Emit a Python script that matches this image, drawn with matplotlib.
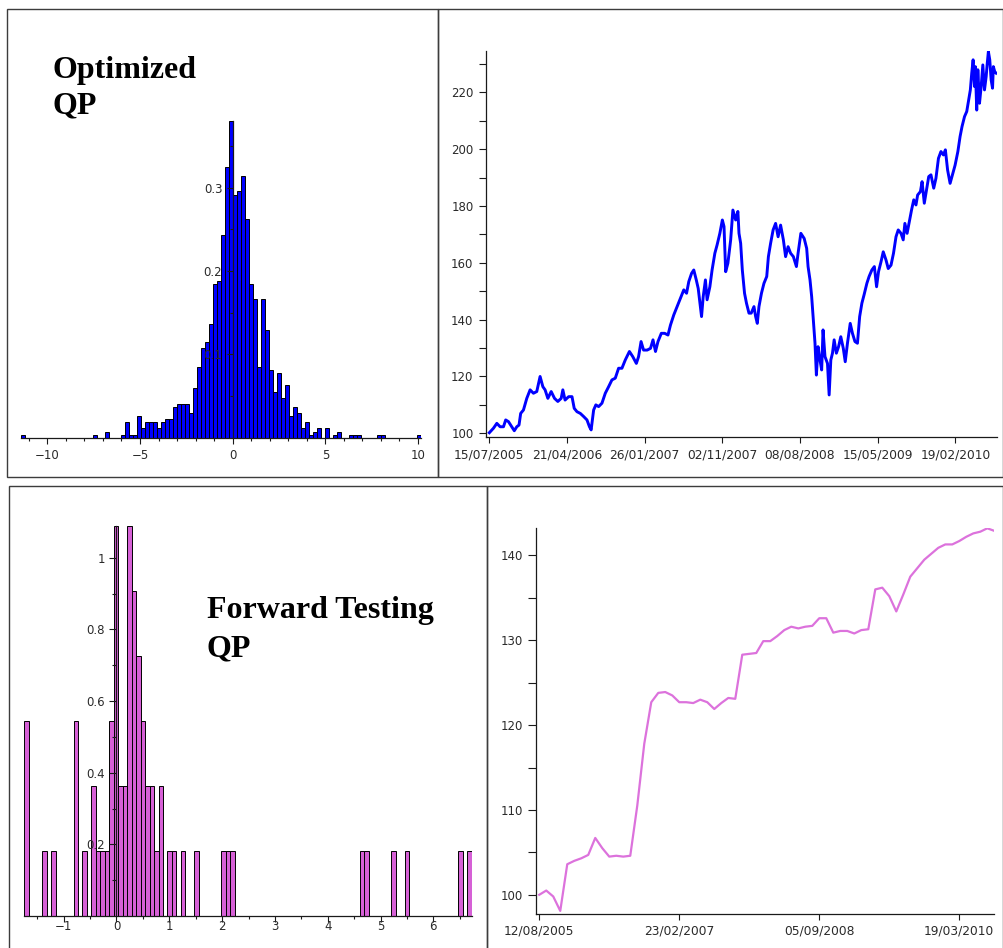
import datetime as dt
import numpy as np
import matplotlib
matplotlib.use("Agg")
import matplotlib.pyplot as plt
import matplotlib.dates as mdates
from matplotlib.patches import Rectangle
from matplotlib.ticker import FuncFormatter

# optimized QP: distribution of returns (%), 100 equal bins, counts per bin
opt_range = (-11.42, 10.16)
opt_counts = [1, 0, 0, 0, 0, 0, 0, 0, 0, 0,
              0, 0, 0, 0, 0, 0, 0, 0, 1, 0,
              0, 2, 0, 0, 0, 1, 5, 1, 1, 7,
              3, 5, 5, 5, 3, 5, 6, 6, 10, 11,
              11, 11, 8, 16, 23, 29, 31, 37, 50, 51,
              66, 88, 103, 79, 80, 85, 71, 50, 45, 23,
              45, 35, 22, 15, 21, 13, 17, 7, 10, 8,
              3, 5, 1, 2, 3, 0, 3, 0, 1, 2,
              0, 0, 1, 1, 1, 0, 0, 0, 0, 1,
              1, 0, 0, 0, 0, 0, 0, 0, 0, 1]

# forward testing QP: distribution of returns (%), 100 equal bins
fwd_range = (-1.746, 6.727)
fwd_counts = [3, 0, 0, 0, 1, 0, 1, 0, 0, 0,
              0, 3, 0, 1, 0, 2, 1, 1, 1, 3,
              6, 2, 2, 6, 5, 4, 3, 2, 2, 1,
              2, 0, 1, 1, 0, 1, 0, 0, 1, 0,
              0, 0, 0, 0, 1, 1, 1, 0, 0, 0,
              0, 0, 0, 0, 0, 0, 0, 0, 0, 0,
              0, 0, 0, 0, 0, 0, 0, 0, 0, 0,
              0, 0, 0, 0, 0, 1, 1, 0, 0, 0,
              0, 0, 1, 0, 0, 1, 0, 0, 0, 0,
              0, 0, 0, 0, 0, 0, 0, 1, 0, 1]

# optimized QP equity curve: days after start date, index level
opt_start = dt.date(2005, 7, 15)
opt_days = [0, 15, 27, 39, 51, 59, 69, 81, 90, 99,
            107, 113, 123, 135, 147, 159, 171, 183, 193, 201,
            211, 223, 235, 247, 259, 265, 273, 286, 298, 306,
            316, 328, 340, 352, 361, 367, 376, 384, 394, 406,
            418, 430, 442, 454, 466, 478, 490, 505, 517, 530,
            538, 547, 556, 569, 581, 590, 599, 608, 620, 632,
            644, 653, 665, 677, 689, 701, 711, 719, 729, 737,
            746, 753, 761, 765, 771, 779, 785, 795, 803, 813,
            821, 831, 840, 846, 852, 860, 870, 878, 888, 896,
            900, 906, 912, 920, 927, 936, 944, 954, 960, 966,
            972, 981, 990, 1000, 1006, 1014, 1023, 1032, 1041, 1050,
            1060, 1068, 1077, 1086, 1096, 1107, 1113, 1123, 1135, 1144,
            1149, 1156, 1162, 1168, 1174, 1179, 1185, 1192, 1198, 1203,
            1210, 1219, 1225, 1231, 1237, 1243, 1251, 1259, 1267, 1276,
            1283, 1291, 1301, 1309, 1318, 1327, 1335, 1343, 1351, 1361,
            1369, 1379, 1388, 1396, 1403, 1412, 1420, 1430, 1438, 1448,
            1457, 1466, 1474, 1484, 1492, 1498, 1506, 1514, 1522, 1530,
            1538, 1544, 1554, 1560, 1568, 1577, 1584, 1592, 1602, 1610,
            1619, 1628, 1637, 1644, 1652, 1661, 1671, 1679, 1689, 1697,
            1704, 1713, 1721, 1728, 1734, 1739, 1744, 1749, 1752, 1757,
            1761, 1767, 1773, 1779, 1785, 1791, 1795, 1799, 1804, 1809,
            1814, 1817, 1822, 1827]
opt_values = [100.2, 101.8, 103.5, 102.3, 102.3, 104.7, 104.1, 102.3, 100.9, 102.3,
              102.9, 107.0, 108.2, 112.3, 115.3, 114.1, 114.7, 120.0, 116.4, 115.3,
              112.3, 114.7, 112.3, 111.2, 112.3, 115.3, 111.7, 112.9, 112.9, 108.8,
              107.6, 107.0, 105.9, 104.7, 102.3, 101.2, 108.2, 110.0, 109.4, 110.6,
              114.1, 116.4, 118.8, 119.4, 122.9, 122.9, 125.8, 128.8, 127.0, 124.6,
              127.0, 132.3, 129.3, 129.3, 129.9, 132.9, 128.8, 132.3, 135.2, 135.2,
              134.6, 138.1, 141.7, 144.6, 147.5, 150.5, 149.3, 153.4, 156.3, 157.5,
              154.0, 151.0, 144.6, 141.1, 148.1, 154.0, 147.0, 151.6, 157.5, 163.4,
              166.3, 170.4, 175.1, 172.8, 156.9, 159.9, 168.1, 178.6, 175.1, 178.1,
              170.4, 166.9, 157.5, 149.3, 145.8, 142.3, 142.3, 144.6, 141.1, 138.7,
              144.6, 149.3, 152.8, 155.2, 162.2, 166.9, 171.6, 173.9, 169.2, 173.3,
              168.1, 162.2, 165.7, 163.4, 162.2, 158.7, 163.4, 170.4, 168.6, 165.1,
              158.7, 154.0, 148.1, 139.9, 131.7, 120.5, 130.5, 125.8, 122.3, 136.4,
              127.0, 124.6, 113.5, 125.8, 128.2, 132.9, 128.2, 130.5, 134.0, 129.9,
              125.2, 131.7, 138.7, 135.2, 132.3, 131.7, 141.1, 145.8, 148.8, 152.8,
              155.2, 157.5, 158.7, 151.6, 156.9, 160.4, 163.9, 161.0, 158.0, 159.2,
              163.4, 169.2, 171.6, 170.4, 168.1, 173.9, 170.4, 174.5, 178.6, 182.2,
              180.4, 183.9, 185.1, 188.6, 181.0, 186.3, 190.4, 191.0, 186.3, 189.8,
              196.8, 199.2, 198.0, 199.8, 192.7, 188.0, 191.5, 194.4, 199.2, 204.5,
              208.0, 211.5, 213.3, 217.4, 220.9, 226.8, 231.5, 222.1, 229.1, 213.8,
              228.0, 216.2, 222.1, 229.7, 220.9, 225.6, 230.3, 234.4, 231.5, 224.4,
              221.5, 229.1, 227.3, 226.8]

# forward testing equity curve, one value every 28 days
fwd_start = dt.date(2005, 8, 12)
fwd_step = 28
fwd_values = [100.0, 100.5, 99.8, 98.1, 103.6, 104.0, 104.3, 104.7, 106.7, 105.5,
              104.5, 104.6, 104.5, 104.6, 110.5, 117.8, 122.7, 123.8, 123.9, 123.5,
              122.7, 122.7, 122.6, 123.0, 122.7, 121.9, 122.6, 123.2, 123.1, 128.3,
              128.4, 128.5, 129.9, 129.9, 130.5, 131.2, 131.6, 131.4, 131.6, 131.7,
              132.6, 132.6, 130.9, 131.1, 131.1, 130.8, 131.2, 131.3, 136.0, 136.2,
              135.2, 133.4, 135.4, 137.5, 138.5, 139.5, 140.2, 140.9, 141.3, 141.3,
              141.7, 142.2, 142.6, 142.8, 143.2, 142.9]

W, H = 1004, 948
fig = plt.figure(figsize=(W / 100, H / 100), dpi=100)
fig.patch.set_facecolor("white")

TXT = "#2a2a2a"
INK = "#1a1a1a"
fmt_g = FuncFormatter(lambda v, p: ("%g" % v).replace("-", "\u2212"))


def px_axes(left, top, right, bottom):
    return fig.add_axes([left / W, 1 - bottom / H, (right - left) / W, (bottom - top) / H])


def frame(left, top, right, bottom):
    fig.add_artist(Rectangle((left / W, 1 - bottom / H), (right - left) / W, (bottom - top) / H,
                             transform=fig.transFigure, fill=False, ec="#3c3c3c", lw=1.0))


def style(ax):
    ax.set_facecolor("none")
    ax.spines["top"].set_visible(False)
    ax.spines["right"].set_visible(False)
    for s in ["left", "bottom"]:
        ax.spines[s].set_color(INK)
        ax.spines[s].set_linewidth(0.9)
    ax.tick_params(which="both", direction="out", color=INK, labelcolor=TXT,
                   labelsize=8.5, width=0.8)
    ax.set_axisbelow(False)


def histogram(ax, counts, rng, color):
    edges = np.linspace(rng[0], rng[1], len(counts) + 1)
    centers = (edges[:-1] + edges[1:]) / 2
    ax.hist(centers, bins=edges, weights=counts, density=True,
            color=color, edgecolor="black", linewidth=0.7)
    ax.set_xlim(*rng)
    ax.spines["left"].set_position(("data", 0))


def peak_density(counts, rng):
    counts = np.asarray(counts, float)
    return counts.max() / (counts.sum() * (rng[1] - rng[0]) / len(counts))


# panel frames
frame(7, 9, 438, 477)
frame(438, 9, 1003, 477)
frame(9, 486, 487, 960)
frame(487, 486, 1003, 960)

# ---- top left histogram
ymax = peak_density(opt_counts, opt_range)
ax1 = px_axes(21, 437.7 - ymax * 833, 421, 437.7)
style(ax1)
histogram(ax1, opt_counts, opt_range, "#0000ff")
ax1.set_ylim(0, ymax)
ax1.set_xticks([-10, -5, 0, 5, 10])
ax1.set_xticks([v for v in range(-11, 11) if v % 5], minor=True)
ax1.set_yticks([0.1, 0.2, 0.3])
ax1.set_yticks([0.05, 0.15, 0.25, 0.35], minor=True)
ax1.xaxis.set_major_formatter(fmt_g)
ax1.yaxis.set_major_formatter(fmt_g)
ax1.tick_params(axis="x", which="major", length=4.2, pad=4.0)
ax1.tick_params(axis="x", which="minor", length=2.2)
ax1.tick_params(axis="y", which="major", length=4.5, pad=3.0)
ax1.tick_params(axis="y", which="minor", length=2.2)

# ---- bottom left histogram
ymax = peak_density(fwd_counts, fwd_range)
ax3 = px_axes(24.3, 916 - ymax * 358.3, 471.7, 916)
style(ax3)
histogram(ax3, fwd_counts, fwd_range, "#d660d6")
ax3.set_ylim(0, ymax)
ax3.set_xticks(range(-1, 7))
ax3.set_xticks([v + 0.5 for v in range(-2, 7)], minor=True)
ax3.set_yticks([0.2, 0.4, 0.6, 0.8, 1.0])
ax3.set_yticks([0.1, 0.3, 0.5, 0.7, 0.9], minor=True)
ax3.xaxis.set_major_formatter(fmt_g)
ax3.yaxis.set_major_formatter(fmt_g)
ax3.tick_params(axis="x", which="major", length=4.2, pad=-1.0)
ax3.tick_params(axis="x", which="minor", length=2.2)
ax3.tick_params(axis="y", which="major", length=5.2, pad=3.0)
ax3.tick_params(axis="y", which="minor", length=2.6)

# ---- top right equity curve
ax2 = px_axes(486, 51, 996.7, 436.7)
style(ax2)
opt_dates = [opt_start + dt.timedelta(days=d) for d in opt_days]
ax2.plot(opt_dates, opt_values, color="#0000ff", lw=2.1, solid_joinstyle="round")
ax2.set_xlim(opt_start - dt.timedelta(days=12), opt_start + dt.timedelta(days=1829))
ax2.set_ylim(98.8, 234.6)
ax2.set_xticks([opt_start + dt.timedelta(days=280 * k) for k in range(7)])
ax2.xaxis.set_major_formatter(mdates.DateFormatter("%d/%m/%Y"))
ax2.set_yticks(range(100, 221, 20))
ax2.set_yticks(range(110, 231, 20), minor=True)
ax2.tick_params(axis="x", length=4.0, pad=4.5, labelsize=8.8)
ax2.tick_params(axis="y", which="both", length=5.0, pad=4.0)

# ---- bottom right equity curve
ax4 = px_axes(536, 528.3, 994.3, 914.3)
style(ax4)
fwd_dates = [fwd_start + dt.timedelta(days=fwd_step * i) for i in range(len(fwd_values))]
ax4.plot(fwd_dates, fwd_values, color="#dc72dc", lw=1.6, solid_joinstyle="round")
ax4.set_xlim(fwd_start - dt.timedelta(days=13), fwd_dates[-1])
ax4.set_ylim(97.7, 143.2)
ax4.set_xticks([fwd_start + dt.timedelta(days=560 * k) for k in range(4)])
ax4.xaxis.set_major_formatter(mdates.DateFormatter("%d/%m/%Y"))
ax4.set_yticks(range(100, 141, 10))
ax4.set_yticks(range(105, 140, 10), minor=True)
ax4.tick_params(axis="x", length=4.0, pad=3.5, labelsize=8.8)
ax4.tick_params(axis="y", which="both", length=6.0, pad=3.5)

# ---- panel captions
serif = ["Liberation Serif", "DejaVu Serif"]
for x, y, s in [(53, 78.3, "Optimized"), (53, 113.3, "QP"),
                (207, 618.3, "Forward Testing"), (207, 656, "QP")]:
    fig.text(x / W, 1 - y / H, s, family=serif, weight="bold", size=23,
             va="baseline", ha="left", color="black")

fig.savefig("out.png", dpi=100)
